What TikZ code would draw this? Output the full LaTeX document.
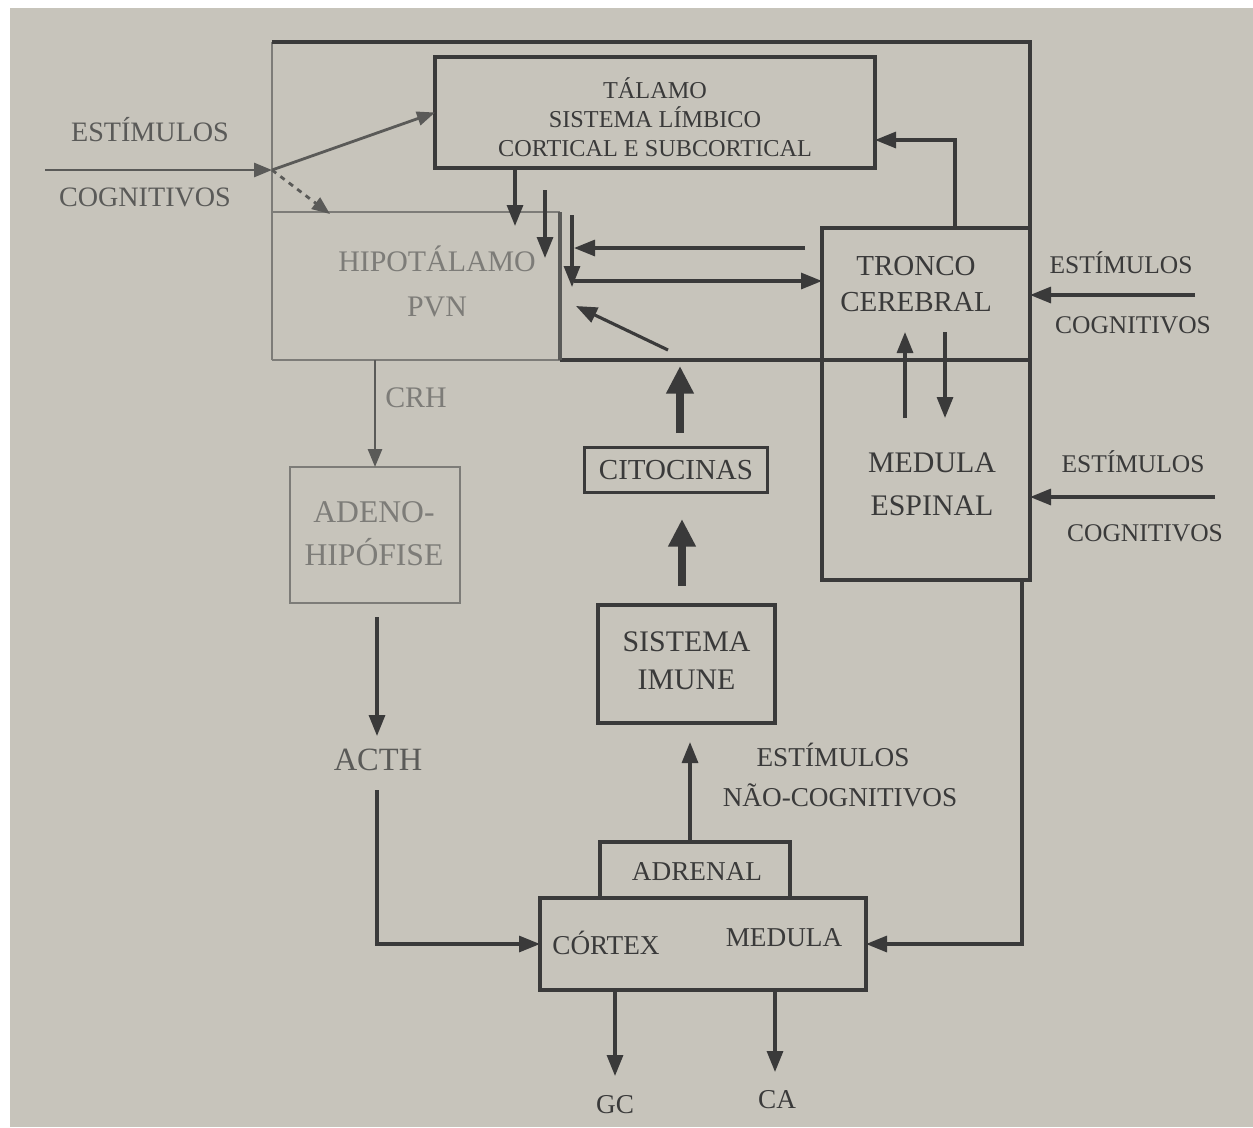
\documentclass[tikz,border=0pt]{standalone}
\usepackage{fontspec}
\setmainfont{Liberation Serif}
\usetikzlibrary{arrows.meta}
\definecolor{paper}{HTML}{C7C4BB}
\definecolor{ink}{HTML}{3A3A3A}
\definecolor{mid}{HTML}{5A5A58}
\definecolor{faint}{HTML}{7D7C78}
\newcommand\fz[2]{\fontsize{#1}{#2}\selectfont}
\begin{document}
\begin{tikzpicture}[x=0.02cm,y=-0.02cm,
  bx/.style 2 args={minimum width=#1*0.02cm, minimum height=#2*0.02cm},
  box/.style={draw=ink, line width=1.8pt, inner sep=0pt, outer sep=0pt},
  gbox/.style={draw=faint, line width=1.5pt, inner sep=0pt, outer sep=0pt},
  lbl/.style={inner sep=0pt, outer sep=0pt, text=ink, align=center, font=\fz{15.5}{19}},
  glbl/.style={lbl, text=faint},
  arr/.style={draw=ink, line width=1.8pt, -{Triangle[length=0.42cm,width=0.32cm]}},
  fatarr/.style={draw=ink, line width=4pt, -{Triangle[length=0.55cm,width=0.52cm]}},
  garr/.style={draw=mid, line width=1.6pt, -{Triangle[length=0.36cm,width=0.28cm]}},
  fline/.style={draw=ink, line width=1.8pt},
  gline/.style={draw=faint, line width=1.5pt},
]
\useasboundingbox (0,0) rectangle (1253,1127);
\fill[white] (0,0) rectangle (1253,1127);
\fill[paper] (10,8) rectangle (1253,1127);

% ---------- brain frame ----------
\coordinate (fNW) at (272,42);
\coordinate (fNE) at (1030,42);
\coordinate (fSE) at (1030,360);
\coordinate (fSW) at (272,360);
\coordinate (fSM) at (560,360);
\draw[gline] (fSW) -- (fNW);
\draw[fline] (fNW) -- (fNE) -- (fSE) -- (fSM);
\draw[gline] (fSM) -- (fSW);

% thalamus / limbic system
\node[box, bx={440}{111}] (tal) at (655,112.5) {};
\node[lbl, font=\fz{13.8}{16.6}] (talt) at (655,117) {TÁLAMO\\SISTEMA LÍMBICO\\CORTICAL E SUBCORTICAL};

% hypothalamus
\node[inner sep=0pt, outer sep=0pt, bx={288}{148}] (hipo) at (416,286) {};
\draw[gline] (hipo.north west) -- (hipo.north east);
\draw[fline, draw=mid] (hipo.north east) -- (hipo.south east);
\node[glbl, font=\fz{17}{25.6}] (hipot) at (437,281) {HIPOTÁLAMO\\PVN};

% brain stem and spinal cord
\node[box, bx={208}{132}] (tron) at (926,294) {};
\node[lbl, font=\fz{16.5}{21}] (tront) at (916,284) {TRONCO\\CEREBRAL};
\node[box, bx={208}{220}] (med) at (926,470) {};
\node[lbl, font=\fz{17}{24.5}] (medt) at (932,484) {MEDULA\\ESPINAL};

% ---------- lower boxes ----------
\node[gbox, bx={170}{136}] (aden) at (375,535) {};
\node[glbl, font=\fz{18}{24.5}] (adent) at (374,534) {ADENO-\\HIPÓFISE};
\node[box, bx={183}{45}] (cito) at (676,470) {};
\node[lbl, font=\fz{16.5}{19}] (citot) at (676,470) {CITOCINAS};
\node[box, bx={177}{118}] (imun) at (686.5,664) {};
\node[lbl, font=\fz{17}{21.6}] (imunt) at (686.5,661) {SISTEMA\\IMUNE};
\node[box, bx={190}{56}] (adr) at (695,870) {};
\node[lbl] (adrt) at (697,872) {ADRENAL};
\node[box, bx={326}{92}] (cort) at (703,944) {};
\node[lbl] (cortt) at (606,943) {CÓRTEX};
\node[lbl] (cortm) at (784,938) {MEDULA};

% free labels
\node[lbl, text=mid, font=\fz{16}{19}] (esL) at (150,130) {ESTÍMULOS};
\node[lbl, text=mid, font=\fz{16}{19}] (coL) at (145,197) {COGNITIVOS};
\node[lbl, font=\fz{14.5}{18}] (esR1) at (1121,263) {ESTÍMULOS};
\node[lbl, font=\fz{14.5}{18}] (coR1) at (1133,325) {COGNITIVOS};
\node[lbl, font=\fz{14.5}{18}] (esR2) at (1133,462) {ESTÍMULOS};
\node[lbl, font=\fz{14.5}{18}] (coR2) at (1145,533) {COGNITIVOS};
\node[glbl, font=\fz{17}{20}] (crh) at (416,398) {CRH};
\node[lbl, text=mid, font=\fz{18.5}{22}] (acth) at (378,760) {ACTH};
\node[lbl] (esN) at (833,755) {ESTÍMULOS};
\node[lbl] (coN) at (840,795) {NÃO-COGNITIVOS};
\node[lbl] (gc) at (615,1105) {GC};
\node[lbl] (ca) at (777,1100) {CA};

% ---------- connectors inside the brain ----------
\coordinate (inL) at (45,170);
\coordinate (jn) at (272,170);
\coordinate (hyTip) at (330,214);
\draw[garr] (inL) -- (jn);
\draw[garr] (jn) -- (tal.west);
\draw[garr, dashed] (jn) -- (hyTip);

\coordinate (a1) at (515,226);
\draw[arr] (a1 |- tal.south) -- (a1);
\coordinate (b1s) at (545,190);
\coordinate (b1e) at (545,258);
\draw[arr] (b1s) -- (b1e);
\coordinate (barT) at (572,215);
\coordinate (barB) at (572,287);
\draw[arr] (barT) -- (barB);

\coordinate (fbS) at (805,248);
\coordinate (fbE) at (574,248);
\draw[arr] (fbS) -- (fbE);
\coordinate (fwS) at (574,281);
\draw[arr] (fwS) -- (tron.west |- fwS);
\coordinate (dgS) at (668,350);
\coordinate (dgE) at (576,306);
\draw[arr] (dgS) -- (dgE);

\coordinate (tk) at (955,140);
\draw[arr] (tk |- tron.north) -- (tk) -- (tal.east |- tk);

\coordinate (inR1) at (1195,295);
\draw[arr] (inR1) -- (inR1 -| tron.east);
\coordinate (upS) at (905,418);
\coordinate (upE) at (905,332);
\draw[arr] (upS) -- (upE);
\coordinate (dnS) at (945,332);
\coordinate (dnE) at (945,418);
\draw[arr] (dnS) -- (dnE);
\coordinate (inR2) at (1215,497);
\draw[arr] (inR2) -- (inR2 -| med.east);

% ---------- axis below the brain ----------
\draw[garr] (aden.north |- fSW) -- (aden.north);
\coordinate (acS) at (377,617);
\coordinate (acE) at (377,736);
\draw[arr] (acS) -- (acE);
\coordinate (acB) at (377,790);
\draw[arr] (acB) |- (cort.west);

\coordinate (c1) at (680,433);
\coordinate (c2) at (680,366);
\draw[fatarr] (c1) -- (c2);
\coordinate (i1) at (682,586);
\coordinate (i2) at (682,519);
\draw[fatarr] (i1) -- (i2);
\coordinate (s2) at (690,742);
\draw[arr] (s2 |- adr.north) -- (s2);

\coordinate (mx) at (1022,944);
\draw[arr] (mx |- med.south) -- (mx) -- (cort.east);

\coordinate (gcTip) at (615,1076);
\draw[arr] (gcTip |- cort.south) -- (gcTip);
\coordinate (caTip) at (775,1072);
\draw[arr] (caTip |- cort.south) -- (caTip);
\end{tikzpicture}
\end{document}
